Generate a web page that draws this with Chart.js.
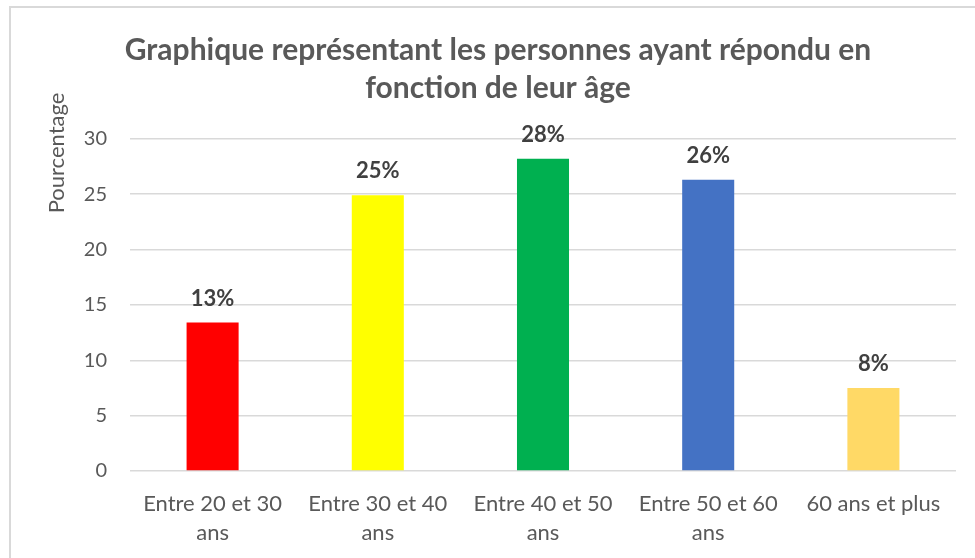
<!DOCTYPE html>
<html>
<head>
<meta charset="utf-8">
<script src="https://cdn.jsdelivr.net/npm/chart.js@4"></script>
<style>
  html, body { margin: 0; padding: 0; background: #ffffff; }
  #wrap { position: relative; width: 975px; height: 558px; }
</style>
</head>
<body>
<div id="wrap"><canvas id="c" width="975" height="558"></canvas></div>
<script>
const categories = [
  ['Entre 20 et 30', 'ans'],
  ['Entre 30 et 40', 'ans'],
  ['Entre 40 et 50', 'ans'],
  ['Entre 50 et 60', 'ans'],
  '60 ans et plus'
];
const values = [13.4, 24.9, 28.2, 26.3, 7.5];
const barColors = ['#FF0000', '#FFFF00', '#00B050', '#4472C4', '#FFD966'];
const titleLines = ['Graphique représentant les personnes ayant répondu en', 'fonction de leur âge'];
const yAxisTitle = 'Pourcentage';
const yTicks = { min: 0, max: 30, step: 5 };

const FONT = 'Lato, "Open Sans", sans-serif';
const TEXT = '#595959';

const frame = {
  id: 'frame',
  beforeDraw(chart) {
    const ctx = chart.ctx;
    ctx.save();
    ctx.fillStyle = '#ffffff';
    ctx.fillRect(0, 0, chart.width, chart.height);
    ctx.strokeStyle = '#d9d9d9';
    ctx.lineWidth = 2;
    ctx.beginPath();
    ctx.moveTo(10, chart.height + 5);
    ctx.lineTo(10, 7);
    ctx.lineTo(chart.width + 5, 7);
    ctx.stroke();
    ctx.restore();
  }
};

const yTitle = {
  id: 'yTitle',
  afterDraw(chart) {
    const ctx = chart.ctx;
    ctx.save();
    ctx.translate(57, 153);
    ctx.rotate(-Math.PI / 2);
    ctx.font = '22px ' + FONT;
    ctx.fillStyle = TEXT;
    ctx.textAlign = 'center';
    ctx.textBaseline = 'middle';
    ctx.fillText(yAxisTitle, 0, 0);
    ctx.restore();
  }
};

const barLabels = {
  id: 'barLabels',
  afterDatasetsDraw(chart) {
    const ctx = chart.ctx;
    const meta = chart.getDatasetMeta(0);
    ctx.save();
    ctx.font = 'bold 22px ' + FONT;
    ctx.fillStyle = '#404040';
    ctx.textAlign = 'center';
    ctx.textBaseline = 'alphabetic';
    meta.data.forEach((bar, i) => {
      ctx.fillText(Math.round(values[i]) + '%', bar.x, bar.y - 17);
    });
    ctx.restore();
  }
};

new Chart(document.getElementById('c'), {
  type: 'bar',
  data: {
    labels: categories,
    datasets: [{
      data: values,
      backgroundColor: barColors,
      borderWidth: 0,
      categoryPercentage: 1,
      barPercentage: 0.315
    }]
  },
  plugins: [frame, yTitle, barLabels],
  options: {
    responsive: false,
    animation: false,
    layout: { padding: { left: 40, right: 19, top: 0, bottom: 0 } },
    plugins: {
      legend: { display: false },
      tooltip: { enabled: false },
      title: {
        display: true,
        text: titleLines,
        color: TEXT,
        font: { family: FONT, size: 30, weight: 'bold', lineHeight: 1.28 },
        padding: { top: 31, bottom: 31 }
      }
    },
    scales: {
      x: {
        grid: { display: false, drawTicks: false },
        border: { display: false },
        ticks: {
          color: TEXT,
          font: { family: FONT, size: 22, lineHeight: 1.32 },
          padding: 18,
          maxRotation: 0,
          autoSkip: false
        },
        afterFit(scale) { scale.height = 87; }
      },
      y: {
        min: yTicks.min,
        max: yTicks.max,
        grid: { color: '#d9d9d9', lineWidth: 1.5, drawTicks: false },
        border: { display: false },
        ticks: {
          stepSize: yTicks.step,
          color: TEXT,
          font: { family: FONT, size: 20 },
          padding: 23
        },
        afterFit(scale) { scale.width = 90; }
      }
    }
  }
});
</script>
</body>
</html>
